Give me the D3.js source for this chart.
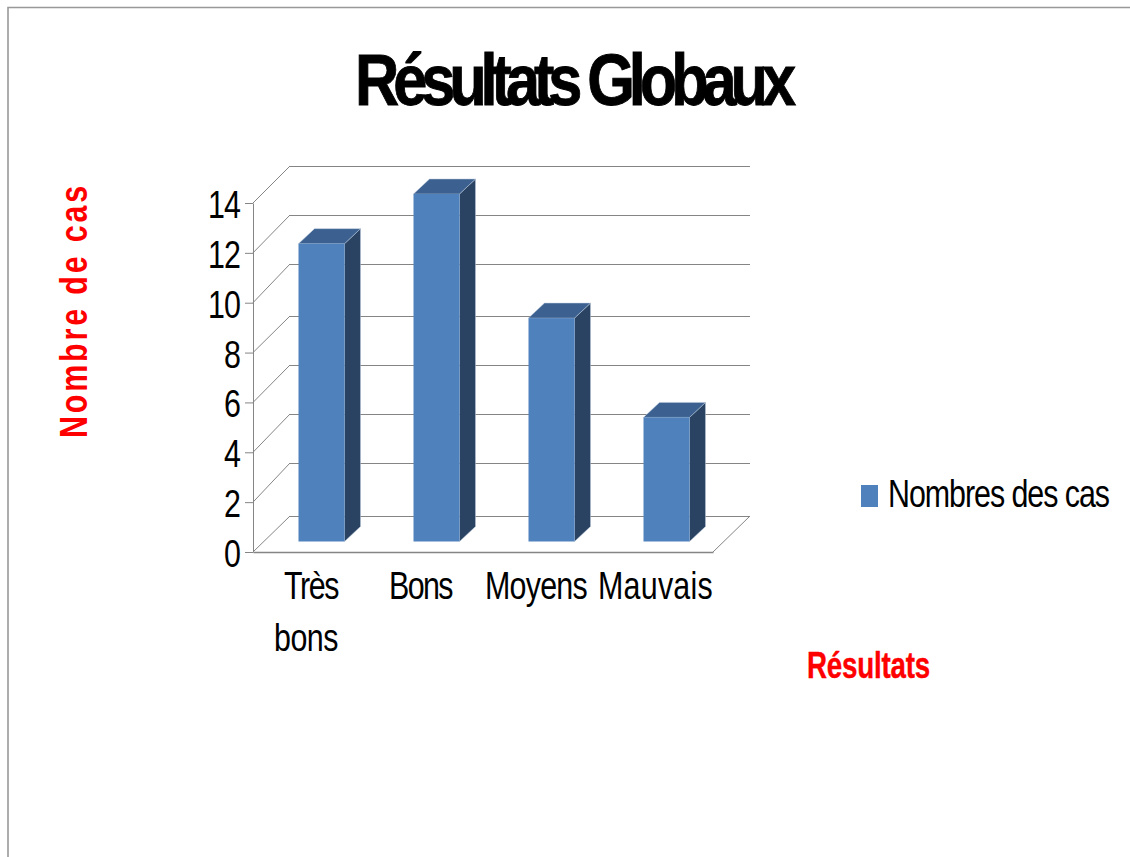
<!DOCTYPE html>
<html>
<head>
<meta charset="utf-8">
<script src="https://cdn.jsdelivr.net/npm/d3@7"></script>
<style>
  html, body { margin: 0; padding: 0; background: #fff; overflow: hidden; }
  text { font-family: "Liberation Sans", Arial, sans-serif; }
</style>
</head>
<body>
<script>
const categories = ["Très bons", "Bons", "Moyens", "Mauvais"];
const values = [12, 14, 9, 5];
const yTicks = [0, 2, 4, 6, 8, 10, 12, 14];
const seriesName = "Nombres des cas";
const chartTitle = "Résultats Globaux";
const xTitle = "Résultats";
const yTitle = "Nombre de cas";

const width = 1130, height = 857;
const plotLeft = 253, plotRight = 713, plotBottom = 552, plotTop = 203;
// depth of the 3d box and of the bars inside it
const boxDx = 37;
const barInset = 11, barDx = 16, barDy = -15;

const gridColor = "#858585";
const frontColor = "#4f81bd", topColor = "#3c6190", sideColor = "#2a4362";

const svg = d3.select("body").append("svg")
    .attr("width", width)
    .attr("height", height)
    .attr("viewBox", [0, 0, width, height]);

// squeezed text like the original: glyphs scaled by sx, tracking fills up to len
function label(text, x, y, size, len, sx, opts = {}) {
    const t = svg.append("text")
        .attr("font-size", size)
        .attr("font-weight", opts.bold ? "bold" : "normal")
        .attr("fill", opts.fill || "#000")
        .attr("text-anchor", opts.anchor || "start")
        .text(text);
    const natural = t.node().getComputedTextLength();
    t.style("letter-spacing", `${(len / sx - natural) / text.length}px`)
        .attr("transform", `translate(${x},${y}) rotate(${opts.rotate || 0}) scale(${sx},1)`);
    if (opts.stroke) t.attr("stroke", opts.fill || "#000").attr("stroke-width", opts.stroke);
    return t;
}

// page frame
svg.append("path")
    .attr("d", `M8,${height}V7.5H${width}`)
    .attr("fill", "none")
    .attr("stroke", "#999")
    .attr("stroke-width", 1.6);

const x = d3.scaleBand()
    .domain(categories)
    .range([plotLeft, plotRight])
    .paddingInner(0.6)
    .paddingOuter(0.3);

const y = d3.scaleLinear()
    .domain([0, 14])
    .range([plotBottom, plotTop]);

// back wall lines are not evenly spaced in the picture
const yBack = d3.scaleLinear()
    .domain(yTicks)
    .range([516, 463, 414, 365, 316, 264, 215, 166]);

// bars stand a little inside the box
const yBar = d3.scaleLinear()
    .domain([0, 14])
    .range([541.5, 194]);

svg.append("g").selectAll("line")
    .data(yTicks)
    .join("line")
    .attr("x1", plotLeft + boxDx)
    .attr("x2", plotRight + boxDx)
    .attr("y1", d => yBack(d))
    .attr("y2", d => yBack(d))
    .attr("stroke", gridColor)
    .attr("shape-rendering", "crispEdges");

svg.append("g").selectAll("line")
    .data(yTicks)
    .join("line")
    .attr("x1", plotLeft)
    .attr("x2", plotLeft + boxDx)
    .attr("y1", d => y(d))
    .attr("y2", d => yBack(d))
    .attr("stroke", gridColor);

// floor
svg.append("line")
    .attr("x1", plotRight).attr("y1", y(0))
    .attr("x2", plotRight + boxDx).attr("y2", yBack(0))
    .attr("stroke", gridColor);

const yAxis = d3.axisLeft(y).tickValues(yTicks).tickSize(8).tickSizeOuter(0).tickFormat("");
svg.append("g")
    .attr("transform", `translate(${plotLeft},0)`)
    .call(yAxis)
    .call(g => g.selectAll("line,path").attr("stroke", gridColor));

const xAxis = d3.axisBottom(x).tickSize(0).tickFormat("");
svg.append("g")
    .attr("transform", `translate(0,${plotBottom})`)
    .call(xAxis)
    .call(g => g.select("path").attr("stroke", gridColor).attr("stroke-width", 1.4));

// bars
const bars = svg.append("g").selectAll("g")
    .data(categories.map((c, i) => ({ c, v: values[i] })))
    .join("g")
    .attr("transform", `translate(${barInset},0)`);

bars.append("path")
    .attr("d", d => {
        const x1 = x(d.c) + x.bandwidth(), y0 = yBar(d.v), y1 = yBar(0);
        return `M${x1},${y0}l${barDx},${barDy}V${y1 + barDy}l${-barDx},${-barDy}Z`;
    })
    .attr("fill", sideColor)
    .attr("stroke", "#b9c8dc")
    .attr("stroke-width", 0.5);

bars.append("path")
    .attr("d", d => {
        const x0 = x(d.c), y0 = yBar(d.v);
        return `M${x0},${y0}l${barDx},${barDy}h${x.bandwidth()}l${-barDx},${-barDy}Z`;
    })
    .attr("fill", topColor)
    .attr("stroke", "#b9c8dc")
    .attr("stroke-width", 0.5);

bars.append("rect")
    .attr("x", d => x(d.c))
    .attr("y", d => yBar(d.v))
    .attr("width", x.bandwidth())
    .attr("height", d => yBar(0) - yBar(d.v))
    .attr("fill", frontColor);

// tick labels
const axisFont = 38, axisSx = 0.8, axisLine1 = 599, axisLine2 = 651;
yTicks.forEach(t => {
    const s = String(t);
    label(s, 240, y(t) + 15, axisFont, s.length * 16, axisSx, { anchor: "end" });
});

label("Très", 284, axisLine1, axisFont, 54, axisSx);
label("bons", 274, axisLine2, axisFont, 64, axisSx);
label("Bons", 389, axisLine1, axisFont, 63, axisSx);
label("Moyens", 485, axisLine1, axisFont, 102, axisSx);
label("Mauvais", 598, axisLine1, axisFont, 115, axisSx);

// titles
label(chartTitle, 355, 105, 73, 435, 0.84, { bold: true, stroke: 0.9 });
label(xTitle, 807, 678, 37, 123, 0.75, { bold: true, fill: "#f00", stroke: 0.4 });
label(yTitle, 87, 438, 38, 255, 0.8, { bold: true, fill: "#f00", rotate: -90 });

// legend
svg.append("rect")
    .attr("x", 861).attr("y", 485)
    .attr("width", 17).attr("height", 22)
    .attr("fill", frontColor);
label(seriesName, 888, 507, axisFont, 221, axisSx);
</script>
</body>
</html>
